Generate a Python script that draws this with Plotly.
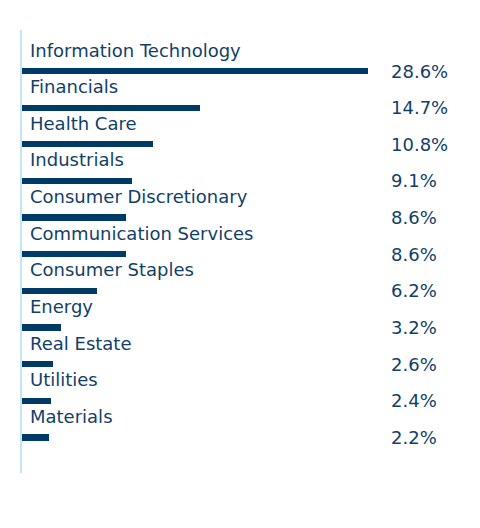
import plotly.graph_objects as go

# sector weights, top to bottom as drawn
sectors = [
    "Information Technology",
    "Financials",
    "Health Care",
    "Industrials",
    "Consumer Discretionary",
    "Communication Services",
    "Consumer Staples",
    "Energy",
    "Real Estate",
    "Utilities",
    "Materials",
]
weights = [28.6, 14.7, 10.8, 9.1, 8.6, 8.6, 6.2, 3.2, 2.6, 2.4, 2.2]
weight_labels = ["28.6%", "14.7%", "10.8%", "9.1%", "8.6%", "8.6%",
                 "6.2%", "3.2%", "2.6%", "2.4%", "2.2%"]

NAVY = "#003a66"
TEXT = "#123f68"
FONT = "DejaVu Sans, Arial, sans-serif"

fig = go.Figure(
    go.Bar(
        x=weights,
        y=sectors,
        orientation="h",
        width=0.172,
        marker=dict(color=NAVY, line=dict(width=0)),
        hoverinfo="skip",
    )
)

# sector name sits above each bar, the percentage off to the right
for name, lab in zip(sectors, weight_labels):
    fig.add_annotation(
        x=0, y=name, xref="x", yref="y",
        text=name, showarrow=False,
        xanchor="left", yanchor="middle",
        xshift=6, yshift=21,
        font=dict(family=FONT, size=18, color=TEXT),
    )
    fig.add_annotation(
        x=0.788, y=name, xref="paper", yref="y",
        text=lab, showarrow=False,
        xanchor="left", yanchor="middle",
        yshift=0,
        font=dict(family=FONT, size=18, color=TEXT),
    )

# page body adds an 8px offset, so margins are trimmed to compensate
fig.update_layout(
    width=480,
    height=528,
    margin=dict(l=14, r=0, t=22, b=63),
    plot_bgcolor="white",
    paper_bgcolor="white",
    showlegend=False,
    bargap=0,
)
fig.update_xaxes(
    range=[0, 38.5],
    showgrid=False, zeroline=False, showticklabels=False, showline=False,
)
fig.update_yaxes(
    type="category",
    range=[10.97, -1.12],
    showgrid=False, zeroline=False, showticklabels=False,
    showline=True, linecolor="#c3e5f5", linewidth=2,
)

fig.write_html("out.html")
